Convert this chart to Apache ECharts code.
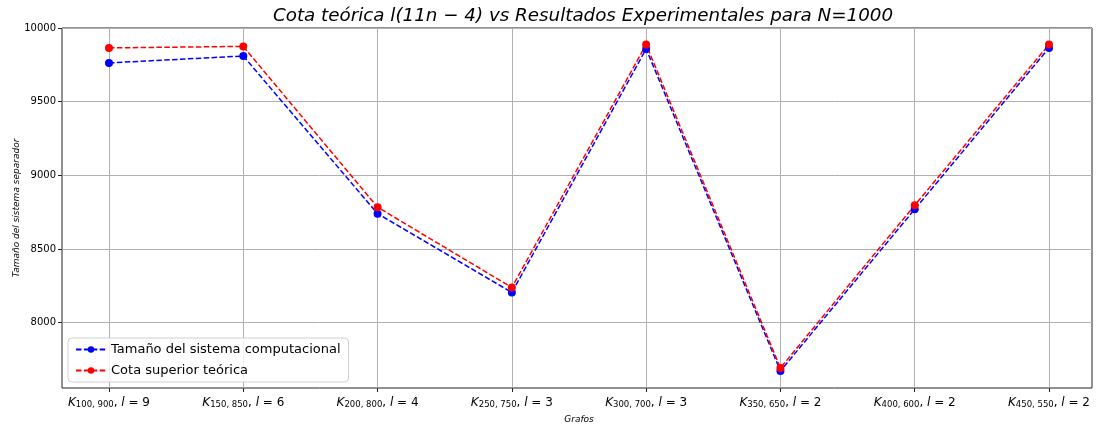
<!DOCTYPE html>
<html>
<head>
<meta charset="utf-8">
<script src="https://cdn.jsdelivr.net/npm/echarts@6/dist/echarts.min.js"></script>
<style>html,body{margin:0;padding:0;background:#fff}#c{width:1098px;height:426px}</style>
</head>
<body>
<div id="c"></div>
<script>
// Data
const graphSubs = ["100, 900","150, 850","200, 800","250, 750","300, 700","350, 650","400, 600","450, 550"];
const graphL = [9, 6, 4, 3, 3, 2, 2, 2];
const tamanoComputacional = [9763, 9810, 8740, 8205, 9858, 7673, 8770, 9865];
const cotaSuperior = [9865, 9875, 8784, 8239, 9888, 7693, 8797, 9888];
const yTicks = [8000, 8500, 9000, 9500, 10000];

const FONT = 'DejaVu Sans';
const Y_MIN = 7557, Y_MAX = 10000;

const chart = echarts.init(document.getElementById('c'), null, {renderer: 'canvas'});
const dash = [5.5, 2.4];
function mk(name, data, color) {
  return {
    name, type: 'line', xAxisIndex: 1, yAxisIndex: 1,
    data: data.map((v, i) => [i, v]),
    symbol: 'circle', symbolSize: 8,
    lineStyle: {color, width: 1.5, type: dash},
    itemStyle: {color},
    emphasis: {disabled: true},
    animation: false
  };
}
chart.setOption({
  animation: false,
  title: {
    text: 'Cota teórica l(11n − 4) vs Resultados Experimentales para N=1000',
    left: 578, top: 2, textAlign: 'center',
    textStyle: {fontFamily: FONT, fontStyle: 'italic', fontWeight: 'normal', fontSize: 18.3, color: '#000'}
  },
  legend: {
    orient: 'vertical', left: 68, top: 338,
    backgroundColor: 'rgba(255,255,255,0.8)', borderColor: '#d0d0d0', borderWidth: 1, borderRadius: 4,
    padding: [5, 8, 5, 7], itemGap: 8, itemWidth: 30, itemHeight: 8,
    textStyle: {fontFamily: FONT, fontSize: 13, color: '#000'},
    data: ['Tamaño del sistema computacional', 'Cota superior teórica']
  },
  grid: [
    {left: 62, right: 6, top: 28, bottom: 38, outerBoundsMode: 'none', containLabel: false,
     show: true, borderColor: '#222', borderWidth: 1, backgroundColor: 'transparent'},
    {left: 109, right: 49, top: 28, bottom: 38, outerBoundsMode: 'none', containLabel: false}
  ],
  xAxis: [
    {gridIndex: 0, type: 'value', min: 0, max: 1, show: false},
    {
      gridIndex: 1, type: 'value', min: 0, max: 7, interval: 1,
      name: 'Grafos', nameLocation: 'middle', nameGap: 27,
      nameTextStyle: {fontFamily: FONT, fontStyle: 'italic', fontSize: 9, color: '#000'},
      axisLine: {show: false},
      axisTick: {show: true, inside: false, length: 4, lineStyle: {color: '#222'}},
      splitLine: {show: true, lineStyle: {color: '#b0b0b0', width: 1}},
      axisLabel: {
        margin: 8,
        formatter: (v) => {
          const i = Math.round(v);
          return '{k|K}{s|' + graphSubs[i] + '}{n|, }{k|l}{n| = ' + graphL[i] + '}';
        },
        rich: {
          k: {fontFamily: FONT, fontStyle: 'italic', fontSize: 12, color: '#000', lineHeight: 13, verticalAlign: 'middle'},
          n: {fontFamily: FONT, fontSize: 12, color: '#000', lineHeight: 13, verticalAlign: 'middle'},
          s: {fontFamily: FONT, fontSize: 8.5, color: '#000', lineHeight: 13, verticalAlign: 'bottom'}
        }
      }
    }
  ],
  yAxis: [
    {
      gridIndex: 0, type: 'value', min: Y_MIN, max: Y_MAX, splitNumber: 5,
      name: 'Tamaño del sistema separador', nameLocation: 'middle', nameGap: 41, nameRotate: 90,
      nameTextStyle: {fontFamily: FONT, fontStyle: 'italic', fontSize: 9, color: '#000'},
      nameMoveOverlap: false,
      axisLine: {show: false},
      axisTick: {show: true, length: 4, lineStyle: {color: '#222'}, customValues: yTicks},
      splitLine: {show: true, lineStyle: {color: '#b0b0b0', width: 1}},
      axisLabel: {
        fontFamily: FONT, fontSize: 10, color: '#000', margin: 6,
        customValues: yTicks,
        formatter: (v) => (yTicks.indexOf(Math.round(v)) >= 0 ? String(Math.round(v)) : '')
      }
    },
    {gridIndex: 1, type: 'value', min: Y_MIN, max: Y_MAX, show: true,
     axisLine: {show: false}, axisTick: {show: false}, axisLabel: {show: false}, splitLine: {show: false}}
  ],
  series: [
    mk('Tamaño del sistema computacional', tamanoComputacional, '#0000ff'),
    mk('Cota superior teórica', cotaSuperior, '#ff0000')
  ]
});
</script>
</body>
</html>
